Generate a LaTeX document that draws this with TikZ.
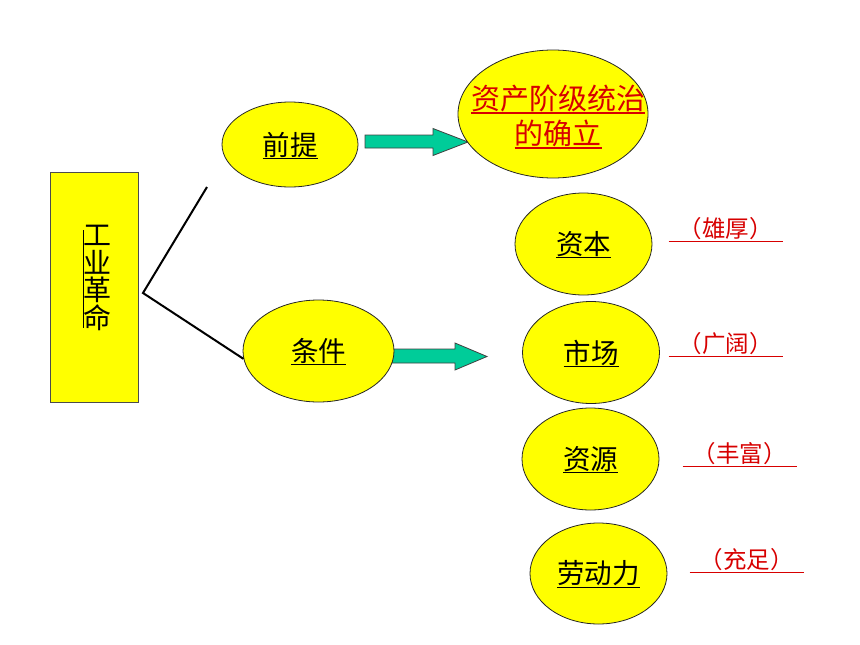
\documentclass[tikz,border=0pt]{standalone}
\usepackage{fontspec}
\setmainfont{Noto Sans CJK SC}
\usetikzlibrary{shapes.geometric}
\definecolor{yel}{RGB}{255,255,0}
\definecolor{tealarr}{RGB}{0,204,153}
\definecolor{redt}{RGB}{215,0,0}
\newcommand\myul[1]{\setbox0\hbox{#1}\rlap{\smash{\rule[-4pt]{\wd0}{1.3pt}}}\box0}
\tikzset{
  ell/.style={ellipse, draw=black!85, line width=0.8pt, fill=yel, inner sep=0pt,
    font=\fontsize{27.5}{32}\selectfont},
  lab/.style={text=redt, inner sep=0pt, font=\fontsize{23.5}{26}\selectfont},
  arr/.style={draw=black!75, line width=0.8pt, fill=tealarr},
  link/.style={line width=2pt, black}
}
\begin{document}
\begin{tikzpicture}[x=1pt,y=-1pt]
\useasboundingbox (0,0) rectangle (860,645);
% left box
\node[draw=black!70, fill=yel, line width=0.8pt, minimum width=88pt, minimum height=230pt, inner sep=0pt] (gy) at (94,287) {};
\node[inner sep=0pt, align=center, font=\fontsize{28}{27.5}\selectfont] (gyt) at (97.5,278) {工\\业\\革\\命};
\draw[line width=1pt] ([yshift=-5pt]gyt.north west) -- ([yshift=3pt]gyt.south west);
% block arrows
\draw[arr] (365,135) -- (433,135) -- (433,128.5) -- (468,142) -- (433,155.5) -- (433,148) -- (365,148) -- cycle;
\draw[arr] (392,349) -- (455,349) -- (455,343) -- (487,356.5) -- (455,370) -- (455,363) -- (392,363) -- cycle;
% ellipses
\node[ell, minimum width=136pt, minimum height=85pt] (qt) at (290,144.5) {\myul{前提}};
\node[ell, minimum width=190pt, minimum height=128pt] (zc) at (553,114) {};
\node[inner sep=0pt, align=center, text=redt, font=\fontsize{29}{35}\selectfont] (zct) at (558,116) {\myul{资产阶级统治}\\\myul{的确立}};
\node[ell, minimum width=137pt, minimum height=102pt] (zb) at (583.5,244) {\myul{资本}};
\node[ell, minimum width=151pt, minimum height=102pt] (tj) at (318.5,351) {\myul{条件}};
\node[ell, minimum width=137pt, minimum height=102pt] (sc) at (591,352.5) {\myul{市场}};
\node[ell, minimum width=137pt, minimum height=102pt] (zy) at (590.5,459) {\myul{资源}};
\node[ell, minimum width=137pt, minimum height=101pt] (ld) at (598.5,573.5) {\myul{劳动力}};
% labels
\node[lab] (l1) at (725.5,229) {\myul{\hspace{10pt}（雄厚）\hspace{10pt}}};
\node[lab] (l2) at (725.5,344) {\myul{\hspace{10pt}（广阔）\hspace{10pt}}};
\node[lab] (l3) at (739.5,454) {\myul{\hspace{10pt}（丰富）\hspace{10pt}}};
\node[lab] (l4) at (746.5,560) {\myul{\hspace{10pt}（充足）\hspace{10pt}}};
% connectors
\coordinate (lt) at (207,187);
\coordinate (lv) at (143,293);
\draw[link] (lt) -- (lv) -- (tj.186);
\end{tikzpicture}
\end{document}
